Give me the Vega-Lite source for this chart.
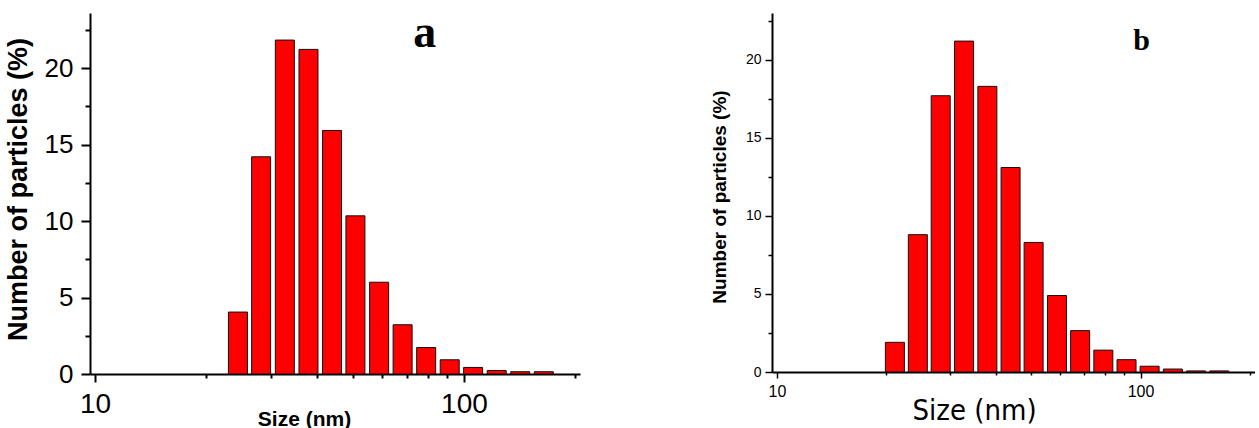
{
  "$schema": "https://vega.github.io/schema/vega-lite/v6.json",
  "background": "white",
  "padding": {"left": 4, "top": 9, "right": 0, "bottom": 0},
  "bounds": "flush",
  "spacing": 192,
  "config": {
    "view": {"stroke": null},
    "axis": {"grid": false, "domainColor": "#000", "tickColor": "#000", "labelColor": "#000", "titleColor": "#000", "labelFlush": false, "labelOverlap": false, "labelBound": false}
  },
  "datasets": {
    "a": [
      {"size": 24.4, "pct": 4.05},
      {"size": 28.2, "pct": 14.2},
      {"size": 32.7, "pct": 21.83},
      {"size": 37.9, "pct": 21.22},
      {"size": 43.9, "pct": 15.92},
      {"size": 50.8, "pct": 10.34},
      {"size": 58.9, "pct": 6.0},
      {"size": 68.2, "pct": 3.22},
      {"size": 79.0, "pct": 1.73},
      {"size": 91.5, "pct": 0.93},
      {"size": 105.9, "pct": 0.43},
      {"size": 122.7, "pct": 0.23},
      {"size": 142.1, "pct": 0.15},
      {"size": 164.6, "pct": 0.15}
    ],
    "b": [
      {"size": 21.1, "pct": 1.9},
      {"size": 24.4, "pct": 8.8},
      {"size": 28.2, "pct": 17.7},
      {"size": 32.7, "pct": 21.2},
      {"size": 37.9, "pct": 18.3},
      {"size": 43.9, "pct": 13.1},
      {"size": 50.8, "pct": 8.3},
      {"size": 58.9, "pct": 4.9},
      {"size": 68.2, "pct": 2.65},
      {"size": 79.0, "pct": 1.4},
      {"size": 91.5, "pct": 0.79},
      {"size": 105.9, "pct": 0.37},
      {"size": 122.7, "pct": 0.19},
      {"size": 142.1, "pct": 0.07},
      {"size": 164.6, "pct": 0.07}
    ]
  },
  "hconcat": [
    {
      "width": 490,
      "height": 361,
      "encoding": {
        "x": {
          "field": "size", "type": "quantitative",
          "scale": {"type": "log", "domain": [10, 200], "nice": false},
          "axis": {
            "values": [10, 20, 30, 40, 50, 60, 70, 80, 90, 100, 200],
            "labelExpr": "datum.value == 10 || datum.value == 100 ? datum.label : ''",
            "format": "d",
            "tickSize": {"condition": {"test": "datum.value == 10 || datum.value == 100", "value": 8}, "value": 4},
            "tickWidth": 2, "domainWidth": 2,
            "labelFont": "Liberation Sans", "labelFontSize": 28, "labelPadding": 8,
            "title": "Size (nm)", "titleFont": "Liberation Sans", "titleFontSize": 21, "titleFontWeight": "bold",
            "titleX": 214, "titleY": 51, "titleBaseline": "alphabetic", "titleAlign": "center", "titleAnchor": null
          }
        },
        "y": {
          "field": "pct", "type": "quantitative",
          "scale": {"domain": [0, 23.6], "nice": false},
          "axis": {
            "values": [0, 2.5, 5, 7.5, 10, 12.5, 15, 17.5, 20, 22.5],
            "labelExpr": "datum.value % 5 == 0 ? datum.label : ''",
            "tickSize": {"condition": {"test": "datum.value % 5 == 0", "value": 9}, "value": 5},
            "tickWidth": 2, "domainWidth": 2,
            "labelFont": "Liberation Sans", "labelFontSize": 26, "labelPadding": 8,
            "title": "Number of particles (%)", "titleFont": "Liberation Sans", "titleFontSize": 27, "titleFontWeight": "bold",
            "titleX": -58, "titleY": 176, "titleAngle": -90, "titleBaseline": "bottom", "titleAlign": "center"
          }
        }
      },
      "layer": [
        {
          "data": {"name": "a"},
          "mark": {"type": "bar", "size": 19, "fill": "#ff0000", "stroke": "#111", "strokeWidth": 1}
        },
        {
          "data": {"values": [{"size": 78.3, "pct": 21.4, "label": "a"}]},
          "mark": {"type": "text", "font": "Liberation Serif", "fontWeight": "bold", "fontSize": 46, "align": "center", "baseline": "alphabetic", "color": "#000"},
          "encoding": {"text": {"field": "label"}}
        }
      ]
    },
    {
      "width": 483,
      "height": 359,
      "encoding": {
        "x": {
          "field": "size", "type": "quantitative",
          "scale": {"type": "log", "domain": [10, 200], "nice": false},
          "axis": {
            "values": [10, 20, 30, 40, 50, 60, 70, 80, 90, 100, 200],
            "labelExpr": "datum.value == 10 || datum.value == 100 ? datum.label : ''",
            "format": "d",
            "tickSize": {"condition": {"test": "datum.value == 10 || datum.value == 100", "value": 6}, "value": 3},
            "tickWidth": 1.5, "domainWidth": 2,
            "labelFont": "Liberation Sans", "labelFontSize": 16, "labelPadding": 5,
            "title": "Size (nm)", "titleFont": "DejaVu Sans Condensed", "titleFontSize": 29, "titleFontWeight": "normal",
            "titleX": 202, "titleY": 47, "titleBaseline": "alphabetic", "titleAlign": "center", "titleAnchor": null
          }
        },
        "y": {
          "field": "pct", "type": "quantitative",
          "scale": {"domain": [0, 23.0], "nice": false},
          "axis": {
            "values": [0, 2.5, 5, 7.5, 10, 12.5, 15, 17.5, 20, 22.5],
            "labelExpr": "datum.value % 5 == 0 ? datum.label : ''",
            "tickSize": {"condition": {"test": "datum.value % 5 == 0", "value": 7}, "value": 4},
            "tickWidth": 1.5, "domainWidth": 2,
            "labelFont": "Liberation Sans", "labelFontSize": 14, "labelPadding": 4,
            "title": "Number of particles (%)", "titleFont": "Liberation Sans", "titleFontSize": 19, "titleFontWeight": "bold",
            "titleX": -43, "titleY": 183.5, "titleAngle": -90, "titleBaseline": "bottom", "titleAlign": "center"
          }
        }
      },
      "layer": [
        {
          "data": {"name": "b"},
          "mark": {"type": "bar", "size": 19, "fill": "#ff0000", "stroke": "#111", "strokeWidth": 1}
        },
        {
          "data": {"values": [{"size": 100.6, "pct": 20.6, "label": "b"}]},
          "mark": {"type": "text", "font": "Liberation Serif", "fontWeight": "bold", "fontSize": 30, "align": "center", "baseline": "alphabetic", "color": "#000"},
          "encoding": {"text": {"field": "label"}}
        }
      ]
    }
  ]
}
